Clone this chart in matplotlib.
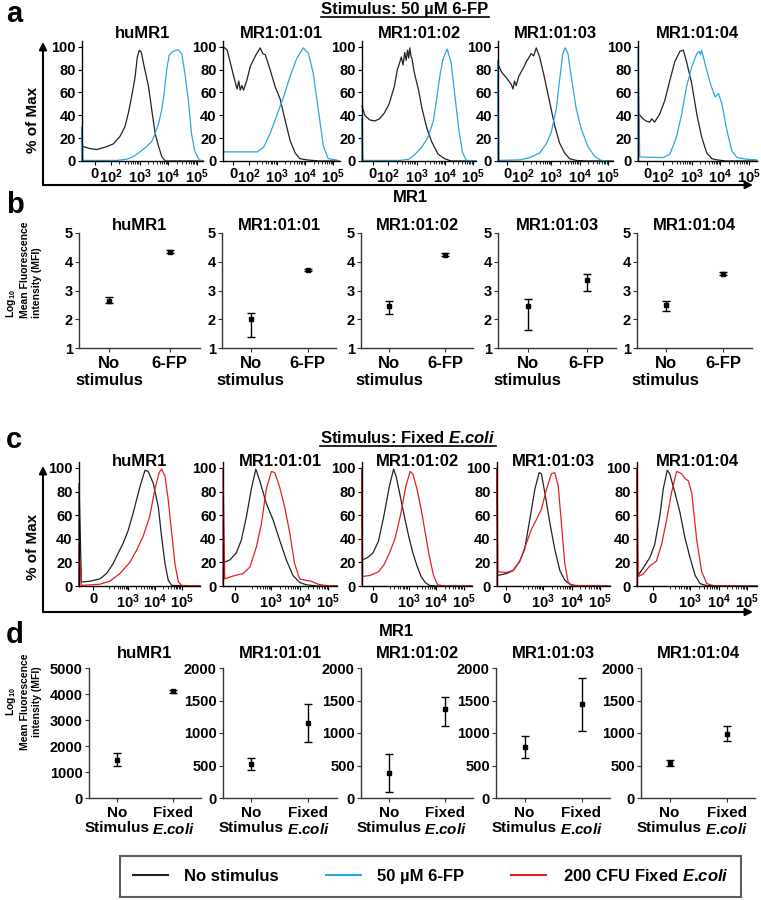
import numpy as np
import matplotlib
matplotlib.use('Agg')
import matplotlib.pyplot as plt
from matplotlib.patches import FancyArrowPatch
from matplotlib.lines import Line2D

# ================= Style =================
plt.rcParams['font.family'] = ['Liberation Sans', 'DejaVu Sans']
plt.rcParams['font.weight'] = 'bold'
plt.rcParams['mathtext.fontset'] = 'custom'
plt.rcParams['mathtext.rm'] = 'Liberation Sans:bold'
plt.rcParams['mathtext.bf'] = 'Liberation Sans:bold'
plt.rcParams['mathtext.it'] = 'Liberation Sans:italic:bold'
plt.rcParams['axes.linewidth'] = 1.0

C_BLACK = '#222222'
C_BLUE = '#2aa7df'
C_RED = '#e41f26'
ECOLI = '$\\mathit{E}$.$\\mathit{coli}$'

groups = ['huMR1', 'MR1:01:01', 'MR1:01:02', 'MR1:01:03', 'MR1:01:04']

# ================= Data: panel a (50 uM 6-FP histograms, % of max) =================
# x in display decades (10^3 -> 3, 10^4 -> 4 ...)
a_hu_black_x = [1.0, 1.25, 1.51, 1.86, 2.09, 2.32, 2.49, 2.61, 2.72, 2.84, 2.92, 2.99, 3.06, 3.13, 3.31, 3.42, 3.54, 3.66, 3.77, 3.89, 5.2]
a_hu_black_y = [13, 11, 10, 12.6, 15, 21.6, 30, 42, 56, 73, 91, 97, 95, 86, 65, 45, 24, 12.6, 3.8, 0, 0]
a_hu_blue_x = [1.0, 1.0, 1.03, 2.2, 2.55, 2.78, 3.01, 3.24, 3.42, 3.54, 3.66, 3.77, 3.85, 3.94, 4.03, 4.17, 4.34, 4.46, 4.57, 4.69, 4.8, 4.92, 5.07, 5.2]
a_hu_blue_y = [0, 30, 0.5, 0.5, 1.5, 3.8, 8, 12.6, 17, 24, 33, 45, 59, 80, 93, 96, 97.4, 94, 77, 53.5, 24, 8, 1, 0]

a_01_black_x = [1.1, 1.24, 1.35, 1.47, 1.59, 1.65, 1.7, 1.76, 1.82, 1.94, 2.06, 2.24, 2.41, 2.5, 2.59, 2.76, 2.94, 3.12, 3.29, 3.47, 3.65, 3.82, 4.06, 4.5, 5.2]
a_01_black_y = [100, 97, 86, 74, 63, 70, 62, 66, 62, 71, 83, 92, 99, 94, 93, 80, 65, 54, 36, 18, 7, 2, 1, 0, 0]
a_01_blue_x = [1.1, 2.3, 2.53, 2.76, 3.0, 3.24, 3.47, 3.71, 3.94, 4.12, 4.29, 4.47, 4.65, 4.82, 5.1, 5.2]
a_01_blue_y = [8, 8, 12, 24, 40, 56, 74, 90, 99, 94, 77, 45, 13, 2, 1, 0]

a_02_black_x = [1.07, 1.17, 1.34, 1.52, 1.69, 1.86, 2.03, 2.21, 2.32, 2.4, 2.46, 2.52, 2.58, 2.63, 2.68, 2.72, 2.76, 2.8, 2.84, 2.9, 2.95, 3.07, 3.18, 3.36, 3.53, 3.76, 3.99, 4.22, 5.1]
a_02_black_y = [48, 40, 36, 35, 37, 42, 50, 65, 80, 86, 91, 84, 95, 88, 97, 90, 99, 92, 89, 80, 74, 62, 47, 29, 17, 6, 2, 0, 0]
a_02_blue_x = [1.07, 1.07, 1.1, 2.4, 2.72, 2.95, 3.18, 3.41, 3.59, 3.7, 3.82, 3.93, 4.08, 4.22, 4.33, 4.5, 4.62, 4.74, 4.9, 5.1]
a_02_blue_y = [0, 38, 0.5, 0.5, 1.5, 6, 12, 21, 35, 53, 74, 89, 98, 86, 62, 26, 8, 1, 0, 0]

a_03_black_x = [1.12, 1.24, 1.41, 1.59, 1.65, 1.7, 1.76, 1.85, 1.94, 2.03, 2.12, 2.2, 2.29, 2.38, 2.47, 2.59, 2.76, 2.94, 3.12, 3.29, 3.47, 3.65, 3.88, 4.2, 5.18]
a_03_black_y = [85, 78, 73, 67, 63, 70, 66, 74, 78, 82, 87, 90, 94, 92, 99, 91, 73, 52, 31, 16, 7, 2, 0.5, 0, 0]
a_03_blue_x = [1.12, 1.12, 1.15, 1.9, 2.24, 2.59, 2.82, 3.0, 3.18, 3.29, 3.41, 3.49, 3.59, 3.71, 3.88, 4.06, 4.29, 4.53, 4.76, 5.18]
a_03_blue_y = [0, 88, 0.5, 1, 3, 7, 15, 25, 46, 70, 94, 99, 94, 73, 46, 28, 13, 4, 0.5, 0]

a_04_black_x = [1.15, 1.29, 1.4, 1.53, 1.6, 1.7, 1.88, 2.06, 2.24, 2.41, 2.59, 2.71, 2.82, 3.0, 3.18, 3.35, 3.53, 3.71, 3.88, 4.2, 5.29]
a_04_black_y = [41, 37, 35, 34, 37, 34, 41, 53, 71, 87, 96, 97, 87, 68, 41, 21, 7, 2, 1, 0, 0]
a_04_blue_x = [1.12, 1.12, 1.18, 2.0, 2.24, 2.47, 2.65, 2.82, 3.0, 3.18, 3.27, 3.31, 3.35, 3.47, 3.65, 3.82, 3.94, 4.06, 4.24, 4.41, 4.59, 4.94, 5.29]
a_04_blue_y = [0, 100, 3.5, 3, 6, 21, 41, 65, 82, 94, 96, 93, 97, 85, 68, 56, 59, 50, 26, 9, 3, 1.5, 1]

# ================= Data: panel b (log10 MFI) =================
b_none_mean = [2.65, 2.01, 2.46, 2.45, 2.50]
b_none_lo = [2.55, 1.40, 2.18, 1.64, 2.30]
b_none_hi = [2.77, 2.23, 2.65, 2.72, 2.65]
b_fp_mean = [4.35, 3.72, 4.25, 3.38, 3.58]
b_fp_lo = [4.30, 3.68, 4.21, 3.00, 3.53]
b_fp_hi = [4.40, 3.76, 4.29, 3.58, 3.63]
b_xlabels = ['No\nstimulus', '6-FP']

# ================= Data: panel c (fixed E.coli histograms) =================
c_hu_black_x = [1.16, 1.16, 1.25, 1.56, 1.94, 2.19, 2.44, 2.63, 2.81, 3.0, 3.19, 3.44, 3.63, 3.75, 3.94, 4.13, 4.25, 4.38, 4.5, 4.63, 5.69]
c_hu_black_y = [0, 87, 3.4, 4, 6, 10.5, 19, 28, 36, 47, 62, 84, 98, 97, 87, 67, 42, 19, 5, 0.5, 0]
c_hu_red_x = [1.16, 1.16, 1.25, 1.94, 2.31, 2.69, 3.06, 3.31, 3.56, 3.81, 4.0, 4.16, 4.25, 4.38, 4.5, 4.63, 4.75, 4.88, 5.0, 5.69]
c_hu_red_y = [0, 33, 0.5, 1.5, 4, 10.5, 20, 30, 42, 59, 82, 96, 99, 93, 73, 45, 19, 3.4, 0.5, 0]

c_01_black_x = [1.32, 1.53, 1.76, 1.94, 2.12, 2.29, 2.45, 2.59, 2.82, 3.06, 3.29, 3.53, 3.76, 4.0, 4.24, 4.6, 5.32]
c_01_black_y = [20, 22, 28, 39, 59, 82, 99, 89, 70, 56, 39, 22, 9, 3, 1, 0, 0]
c_01_red_x = [1.29, 1.29, 1.35, 1.65, 2.0, 2.24, 2.47, 2.65, 2.82, 3.0, 3.12, 3.29, 3.47, 3.65, 3.82, 4.0, 4.18, 4.41, 4.65, 5.0, 5.32]
c_01_red_y = [0, 100, 6, 8.5, 10.5, 16, 33, 53, 82, 97, 96, 84, 67, 45, 19, 6, 5, 4, 1.5, 0, 0]

c_02_black_x = [1.3, 1.5, 1.7, 1.9, 2.1, 2.3, 2.45, 2.55, 2.7, 2.85, 3.0, 3.15, 3.3, 3.45, 3.6, 3.75, 4.0, 5.3]
c_02_black_y = [22, 24, 28, 38, 60, 85, 99, 92, 75, 58, 42, 28, 17, 8, 3, 0.5, 0, 0]
c_02_red_x = [1.3, 1.3, 1.32, 1.6, 1.9, 2.1, 2.3, 2.5, 2.7, 2.9, 3.05, 3.15, 3.3, 3.45, 3.6, 3.75, 3.9, 4.05, 4.3, 5.3]
c_02_red_y = [0, 100, 8, 9, 12, 18, 28, 40, 60, 85, 97, 95, 82, 65, 45, 25, 9, 1, 0, 0]

c_03_black_x = [1.41, 1.71, 1.94, 2.18, 2.35, 2.53, 2.71, 2.86, 2.94, 3.06, 3.24, 3.41, 3.59, 3.76, 3.94, 4.2, 5.35]
c_03_black_y = [9, 10.5, 13, 21, 31, 56, 82, 96, 95, 79, 53, 31, 13, 5, 1.5, 0, 0]
c_03_red_x = [1.38, 1.38, 1.41, 1.71, 1.94, 2.18, 2.41, 2.59, 2.76, 2.94, 3.12, 3.29, 3.41, 3.53, 3.65, 3.76, 3.88, 4.0, 5.35]
c_03_red_y = [0, 100, 12, 11.5, 13, 21, 36, 48, 56, 65, 82, 95, 96, 85, 51, 19, 3.4, 0.5, 0]

c_04_black_x = [1.18, 1.35, 1.59, 1.76, 1.94, 2.06, 2.2, 2.29, 2.47, 2.65, 2.82, 3.0, 3.18, 3.35, 3.59, 4.0, 5.35]
c_04_black_y = [9, 15, 24, 35, 59, 82, 98, 95, 79, 62, 41, 24, 9, 2, 0.3, 0, 0]
c_04_red_x = [1.14, 1.14, 1.18, 1.35, 1.59, 1.82, 2.0, 2.18, 2.35, 2.53, 2.62, 2.71, 2.82, 2.94, 3.06, 3.24, 3.41, 3.59, 3.82, 5.35]
c_04_red_y = [0, 100, 8, 10, 17, 21, 35, 56, 79, 97, 96, 95, 91, 89, 79, 38, 12, 2, 0.3, 0]

# ================= Data: panel d (MFI) =================
d_none_mean = [1480, 530, 380, 780, 545]
d_none_lo = [1230, 430, 90, 610, 500]
d_none_hi = [1750, 620, 680, 950, 590]
d_ec_mean = [4100, 1150, 1375, 1440, 990]
d_ec_lo = [4050, 860, 1110, 1030, 880]
d_ec_hi = [4150, 1440, 1550, 1850, 1110]
d_xlabels = ['No\nStimulus', 'Fixed\n' + ECOLI]

# ================= Figure =================
W, H = 761, 900
fig = plt.figure(figsize=(W / 100, H / 100), dpi=100)


def px_rect(x0, y0, x1, y1):
    return [x0 / W, 1 - y1 / H, (x1 - x0) / W, (y1 - y0) / H]


def fx(x):
    return x / W


def fy(y):
    return 1 - y / H


def hist_panel(xr, yr, xlim, xt, xtl, curves, title, title_y):
    ax = fig.add_axes(px_rect(xr[0], yr[0], xr[1], yr[1]))
    for xs, ys, col in curves:
        ax.plot(xs, ys, color=col, lw=0.9, clip_on=False)
    ax.set_xlim(*xlim)
    ax.set_ylim(0, 105)
    ax.spines['top'].set_visible(False)
    ax.spines['right'].set_visible(False)
    ax.set_yticks([0, 20, 40, 60, 80, 100])
    ax.set_xticks(xt)
    ax.set_xticklabels(xtl)
    minors = [d + np.log10(k) for d in (2, 3, 4) for k in range(2, 10)]
    ax.set_xticks([m for m in minors if xlim[0] < m < xlim[1]], minor=True)
    ax.tick_params(axis='both', labelsize=10.5, length=3, width=0.8, pad=1.5)
    ax.tick_params(axis='x', which='minor', length=2, width=0.6)
    fig.text(fx((xr[0] + xr[1]) / 2), fy(title_y), title, ha='center', va='center',
             fontsize=12, weight='bold')
    return ax


def err_panel(xr, yr, i, none_m, none_lo, none_hi, st_m, st_lo, st_hi, ylim, yt, xlabels,
              xfs, title, title_y):
    ax = fig.add_axes(px_rect(xr[0], yr[0], xr[1], yr[1]))
    means = [none_m[i], st_m[i]]
    lows = [none_m[i] - none_lo[i], st_m[i] - st_lo[i]]
    highs = [none_hi[i] - none_m[i], st_hi[i] - st_m[i]]
    ax.errorbar([0, 1], means, yerr=[lows, highs], fmt='s', color='black', ms=3,
                elinewidth=1, capsize=3, capthick=1)
    ax.set_xlim(-0.5, 1.5)
    ax.set_ylim(*ylim)
    ax.set_yticks(yt)
    ax.set_xticks([0, 1])
    ax.set_xticklabels(xlabels, fontsize=xfs, va='top', linespacing=1.1)
    for s in ('top', 'right'):
        ax.spines[s].set_visible(False)
    for s in ('left', 'bottom'):
        ax.spines[s].set_color('#333333')
    ax.tick_params(axis='y', labelsize=10.5, length=3, width=0.8, pad=1.5, color='#333333')
    ax.tick_params(axis='x', length=3, width=0.8, pad=3, color='#333333')
    fig.text(fx((xr[0] + xr[1]) / 2), fy(title_y), title, ha='center', va='center',
             fontsize=12, weight='bold')
    return ax


# ---------- panel a ----------
a_curves = [
    [(a_hu_black_x, a_hu_black_y, C_BLACK), (a_hu_blue_x, a_hu_blue_y, C_BLUE)],
    [(a_01_black_x, a_01_black_y, C_BLACK), (a_01_blue_x, a_01_blue_y, C_BLUE)],
    [(a_02_black_x, a_02_black_y, C_BLACK), (a_02_blue_x, a_02_blue_y, C_BLUE)],
    [(a_03_black_x, a_03_black_y, C_BLACK), (a_03_blue_x, a_03_blue_y, C_BLUE)],
    [(a_04_black_x, a_04_black_y, C_BLACK), (a_04_blue_x, a_04_blue_y, C_BLUE)],
]
a_xr = [(82, 203), (223, 340), (362, 476), (498, 613), (638, 757)]
a_xlims = [(1.0, 5.2), (1.09, 5.24), (1.07, 5.1), (1.12, 5.18), (1.12, 5.29)]
a_ticks = [1.45, 2.0, 3, 4, 5]
a_tl = ['0', '$10^{2}$', '$10^{3}$', '$10^{4}$', '$10^{5}$']
for k in range(5):
    hist_panel(a_xr[k], (41, 161), a_xlims[k], a_ticks, a_tl, a_curves[k], groups[k], 33)

# ---------- panel b ----------
b_xr = [(79, 200), (222, 336), (361, 473), (498, 616), (637, 752)]
for k in range(5):
    err_panel(b_xr[k], (233, 348), k, b_none_mean, b_none_lo, b_none_hi,
              b_fp_mean, b_fp_lo, b_fp_hi, (1, 5), [1, 2, 3, 4, 5], b_xlabels, 12,
              groups[k], 225)

# ---------- panel c ----------
c_curves = [
    [(c_hu_black_x, c_hu_black_y, C_BLACK), (c_hu_red_x, c_hu_red_y, C_RED)],
    [(c_01_black_x, c_01_black_y, C_BLACK), (c_01_red_x, c_01_red_y, C_RED)],
    [(c_02_black_x, c_02_black_y, C_BLACK), (c_02_red_x, c_02_red_y, C_RED)],
    [(c_03_black_x, c_03_black_y, C_BLACK), (c_03_red_x, c_03_red_y, C_RED)],
    [(c_04_black_x, c_04_black_y, C_BLACK), (c_04_red_x, c_04_red_y, C_RED)],
]
c_xr = [(79, 200), (223, 337), (362, 472), (497, 610), (637, 757)]
c_xlims = [(1.16, 5.69), (1.29, 5.32), (1.3, 5.3), (1.38, 5.35), (1.14, 5.35)]
c_ticks = [1.7, 3, 4, 5]
c_tl = ['0', '$10^{3}$', '$10^{4}$', '$10^{5}$']
for k in range(5):
    hist_panel(c_xr[k], (462, 586), c_xlims[k], c_ticks, c_tl, c_curves[k], groups[k], 462)

# ---------- panel d ----------
d_xr = [(89, 201), (223, 337), (361, 473), (496, 610), (641, 755)]
for k in range(5):
    if k == 0:
        ylim, yt = (0, 5000), [0, 1000, 2000, 3000, 4000, 5000]
    else:
        ylim, yt = (0, 2000), [0, 500, 1000, 1500, 2000]
    err_panel(d_xr[k], (668, 798), k, d_none_mean, d_none_lo, d_none_hi,
              d_ec_mean, d_ec_lo, d_ec_hi, ylim, yt, d_xlabels, 11, groups[k], 653)

# ---------- big axis arrows ----------
def fig_arrow(x0, y0, x1, y1):
    fig.add_artist(FancyArrowPatch((fx(x0), fy(y0)), (fx(x1), fy(y1)),
                                   transform=fig.transFigure, arrowstyle='-|>',
                                   mutation_scale=11, lw=1.5, color='black',
                                   shrinkA=0, shrinkB=0))


fig_arrow(43, 185, 43, 42)
fig_arrow(43, 185, 753, 185)
fig_arrow(43, 612, 43, 466)
fig_arrow(43, 612, 753, 612)

fig.text(fx(33), fy(120), '% of Max', rotation=90, ha='center', va='center', fontsize=11)
fig.text(fx(33), fy(547), '% of Max', rotation=90, ha='center', va='center', fontsize=11)
fig.text(fx(410), fy(198), 'MR1', ha='center', va='center', fontsize=12)
fig.text(fx(396), fy(632), 'MR1', ha='center', va='center', fontsize=12)

ylab = 'Log$_{10}$\nMean Fluorescence\nintensity (MFI)'
fig.text(fx(23), fy(318), ylab, rotation=90, ha='center', va='bottom',
         multialignment='left', fontsize=7.5, linespacing=1.25)
fig.text(fx(23), fy(702), ylab, rotation=90, ha='center', va='center',
         multialignment='center', fontsize=7.5, linespacing=1.25)

# ---------- panel letters ----------
for letter, yb in (('a', 22), ('b', 213), ('c', 448), ('d', 643)):
    fig.text(fx(6), fy(yb), letter, fontsize=21, weight='bold', va='baseline', ha='left')

# ---------- underlined headers ----------
renderer = fig.canvas.get_renderer()


def underlined(xc, yb, s):
    t = fig.text(fx(xc), fy(yb), s, ha='center', va='baseline', fontsize=12)
    bb = t.get_window_extent(renderer=renderer)
    yy = fy(yb + 3)
    fig.add_artist(Line2D([bb.x0 / fig.bbox.width, bb.x1 / fig.bbox.width], [yy, yy],
                          transform=fig.transFigure, color='black', lw=1.2))


underlined(405, 14, 'Stimulus: 50 µM 6-FP')
underlined(408, 443, 'Stimulus: Fixed ' + ECOLI)

# ---------- legend ----------
handles = [Line2D([], [], color=C_BLACK, lw=1.5),
           Line2D([], [], color=C_BLUE, lw=1.5),
           Line2D([], [], color=C_RED, lw=1.5)]
labels = ['No stimulus', '50 µM 6-FP', '200 CFU Fixed ' + ECOLI]
leg = fig.legend(handles, labels, loc='center', ncol=3, mode='expand',
                 bbox_to_anchor=(fx(120), fy(898), 621 / W, 44 / H), frameon=True,
                 fancybox=False, edgecolor='#333333', fontsize=12, handlelength=2.1,
                 handletextpad=1.0, columnspacing=1.4, borderpad=0.75, borderaxespad=0)
leg.get_frame().set_linewidth(1.5)

fig.savefig('out.png', dpi=100)
